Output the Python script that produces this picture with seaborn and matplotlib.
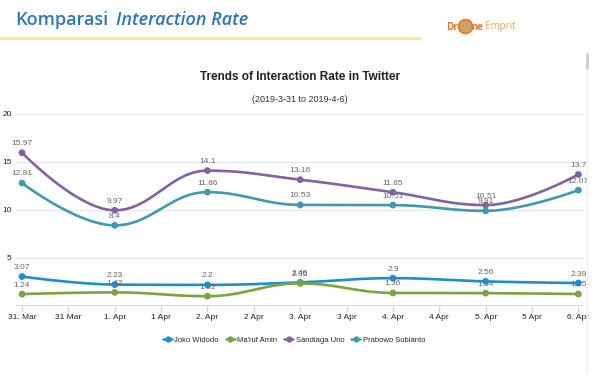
import numpy as np
import pandas as pd
import matplotlib
matplotlib.use('Agg')
import matplotlib.pyplot as plt
import seaborn as sns
from matplotlib.lines import Line2D

days = ['31 Mar', '1 Apr', '2 Apr', '3 Apr', '4 Apr', '5 Apr', '6 Apr']
tick_labels = ['31. Mar', '31 Mar', '1. Apr', '1 Apr', '2. Apr', '2 Apr', '3. Apr',
               '3 Apr', '4. Apr', '4 Apr', '5. Apr', '5 Apr', '6. Apr']

joko = [3.07, 2.23, 2.2, 2.46, 2.9, 2.56, 2.39]
maruf = [1.24, 1.42, 1.02, 2.35, 1.36, 1.34, 1.25]
sandiaga = [15.97, 9.97, 14.1, 13.16, 11.85, 10.51, 13.7]
prabowo = [12.81, 8.4, 11.86, 10.53, 10.51, 9.91, 12.07]

names = ['Joko Widodo', "Ma'ruf Amin", 'Sandiaga Uno', 'Prabowo Subianto']
series = [joko, maruf, sandiaga, prabowo]
pal = ['#1a8fd3', '#7aa43f', '#8064a2', '#4198af']

NARROW = ['Liberation Sans', 'DejaVu Sans']
HEAD = ['Open Sans', 'DejaVu Sans']


def spline(xs, ys, n=30):
    # highcharts-like spline: bezier control points around each point
    k = len(xs)
    lc = [(xs[i], ys[i]) for i in range(k)]
    rc = [(xs[i], ys[i]) for i in range(k)]
    s, d = 1.5, 2.5
    for i in range(1, k - 1):
        px, py = xs[i], ys[i]
        lx, ly = xs[i - 1], ys[i - 1]
        nx, ny = xs[i + 1], ys[i + 1]
        lcx, lcy = (s * px + lx) / d, (s * py + ly) / d
        rcx, rcy = (s * px + nx) / d, (s * py + ny) / d
        corr = ((rcy - lcy) * (rcx - px)) / (rcx - lcx) + py - rcy
        lcy += corr
        rcy += corr
        if lcy > ly and lcy > py:
            lcy = max(ly, py)
            rcy = 2 * py - lcy
        elif lcy < ly and lcy < py:
            lcy = min(ly, py)
            rcy = 2 * py - lcy
        if rcy > ny and rcy > py:
            rcy = max(ny, py)
            lcy = 2 * py - rcy
        elif rcy < ny and rcy < py:
            rcy = min(ny, py)
            lcy = 2 * py - rcy
        lc[i] = (lcx, lcy)
        rc[i] = (rcx, rcy)
    t = np.linspace(0, 1, n)
    outx, outy = [], []
    for i in range(k - 1):
        p0 = np.array([xs[i], ys[i]])
        p1 = np.array(rc[i])
        p2 = np.array(lc[i + 1])
        p3 = np.array([xs[i + 1], ys[i + 1]])
        pts = ((1 - t) ** 3)[:, None] * p0 + (3 * (1 - t) ** 2 * t)[:, None] * p1 \
            + (3 * (1 - t) * t ** 2)[:, None] * p2 + (t ** 3)[:, None] * p3
        outx.extend(pts[:, 0])
        outy.extend(pts[:, 1])
    return outx, outy


def main():
    sns.set_theme(style='white')
    plt.rcParams['font.family'] = NARROW

    x = list(range(len(days)))
    dense = {'x': [], 'y': [], 'Candidate': []}
    points = {'x': [], 'y': [], 'Candidate': []}
    for name, vals in zip(names, series):
        sx, sy = spline(x, vals)
        dense['x'] += sx
        dense['y'] += sy
        dense['Candidate'] += [name] * len(sx)
        points['x'] += x
        points['y'] += vals
        points['Candidate'] += [name] * len(x)
    dense = pd.DataFrame(dense)
    points = pd.DataFrame(points)

    fig = plt.figure(figsize=(6, 3.75), dpi=100)
    fig.patch.set_facecolor('white')
    ax = fig.add_axes([16 / 600, 69 / 375, 567 / 600, 192 / 375])

    for yv in [5, 10, 15, 20]:
        ax.axhline(yv, color='#e3e6f3', lw=1, zorder=0)
    ax.axhline(0, color='#ccd6eb', lw=1.2, zorder=1)

    sns.lineplot(data=dense, x='x', y='y', hue='Candidate', hue_order=names, palette=pal,
                 sort=False, estimator=None, lw=1.9, legend=False, ax=ax, zorder=3)
    sns.scatterplot(data=points, x='x', y='y', hue='Candidate', hue_order=names, palette=pal,
                    s=24, edgecolor='none', legend=False, ax=ax, zorder=4)

    for vals in series:
        for xi, v in zip(x, vals):
            ax.annotate(f'{v:g}', (xi, v), xytext=(0, 4), textcoords='offset points',
                        ha='center', va='bottom', fontsize=6, color='#666666', zorder=5)

    ax.set_xlim(-0.065, 6.05)
    ax.set_ylim(0, 20)
    ax.set_xticks(np.arange(0, 6.01, 0.5))
    ax.set_xticklabels(tick_labels, fontsize=6, color='#222222')
    ax.set_yticks([5, 10, 15, 20])
    ax.set_yticklabels(['5', '10', '15', '20'], fontsize=6, color='#222222')
    ax.tick_params(axis='x', length=4, color='#ccd6eb', width=1, pad=2, direction='out', bottom=True)
    ax.tick_params(axis='y', length=0, pad=3)
    for sp in ax.spines.values():
        sp.set_visible(False)
    ax.set_xlabel('')
    ax.set_ylabel('')
    ax.set_facecolor('none')

    fig.text(0.5, 1 - 77 / 375, 'Trends of Interaction Rate in Twitter', ha='center', va='center',
             fontsize=8.5, fontweight='bold', color='#222222')
    fig.text(0.5, 1 - 99 / 375, '(2019-3-31 to 2019-4-6)', ha='center', va='center',
             fontsize=6.5, color='#333333')

    # slide header
    fig.text(15 / 600, 1 - 20 / 375, 'Komparasi', ha='left', va='center', fontsize=13,
             fontweight='semibold', color='#2e75b6', family=HEAD)
    fig.text(116 / 600, 1 - 20 / 375, 'Interaction Rate', ha='left', va='center', fontsize=13,
             fontweight='semibold', style='italic', color='#2e75b6', family=HEAD)
    fig.add_artist(Line2D([0, 420 / 600], [1 - 38 / 375] * 2, color='#ffe699', lw=2.2))

    # logo
    fig.text(446 / 600, 1 - 27 / 375, 'Dr', ha='left', va='center', fontsize=7,
             fontweight='bold', color='#e8782c', family=HEAD)
    fig.add_artist(Line2D([465 / 600], [1 - 26 / 375], marker='o', markersize=10,
                          markerfacecolor='#c9a46a', markeredgecolor='#e8782c', markeredgewidth=1.3,
                          transform=fig.transFigure))
    fig.text(471.5 / 600, 1 - 27 / 375, 'ne', ha='left', va='center', fontsize=7,
             fontweight='bold', color='#e8782c', family=HEAD)
    fig.text(485 / 600, 1 - 27 / 375, 'Emprit', ha='left', va='center', fontsize=7,
             color='#f0a060', family=HEAD)

    fig.add_artist(Line2D([587 / 600] * 2, [0, 1 - 52 / 375], color='#eeeeee', lw=1))
    fig.add_artist(Line2D([587 / 600] * 2, [1 - 68 / 375, 1 - 54 / 375], color='#cccccc', lw=2))

    handles = [Line2D([0], [0], color=c, lw=1.8, marker='o', markersize=3.5) for c in pal]
    fig.legend(handles, names, loc='center', bbox_to_anchor=(0.49, 1 - 340 / 375), ncol=4,
               frameon=False, fontsize=5.5, handlelength=1.2, handletextpad=0.3, columnspacing=0.9)

    fig.savefig('out.png', dpi=100, facecolor='white')
    plt.close(fig)


if __name__ == '__main__':
    main()
